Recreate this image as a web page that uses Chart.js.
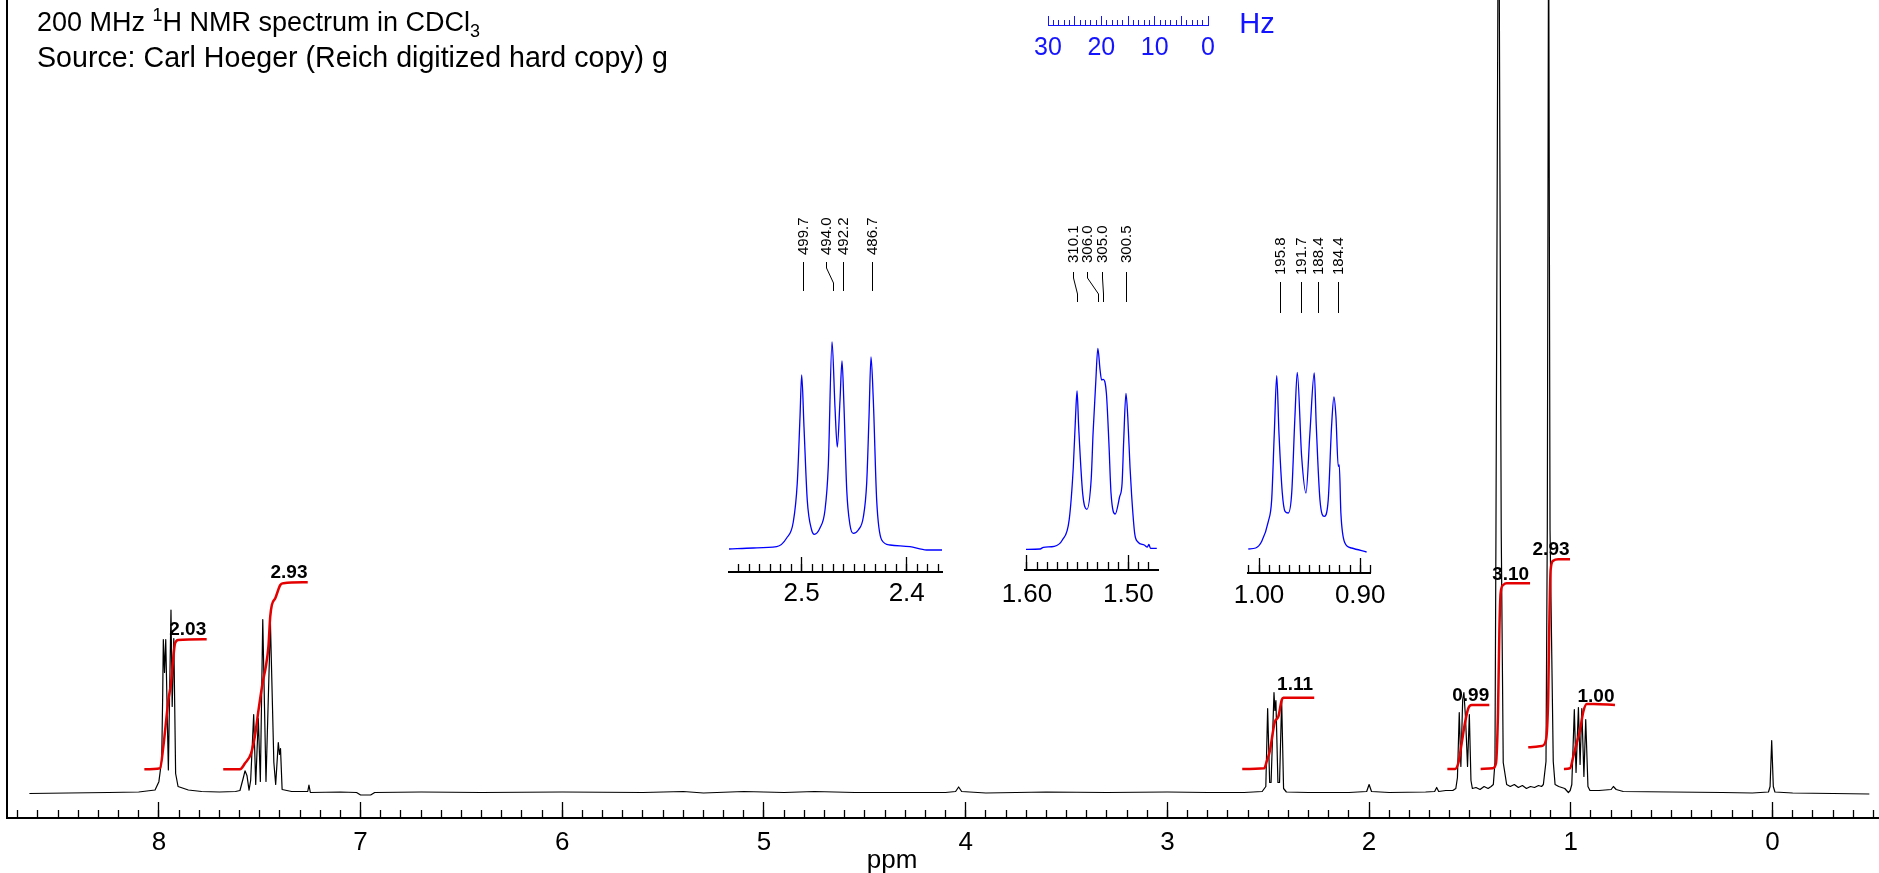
<!DOCTYPE html>
<html>
<head>
<meta charset="utf-8">
<script src="https://cdn.jsdelivr.net/npm/chart.js@4.4.1/dist/chart.umd.min.js"></script>
<style>
  html, body { margin: 0; padding: 0; background: #fff; width: 1879px; height: 873px; overflow: hidden; }
  canvas { position: absolute; }
  .title { position: absolute; left: 37px; font-family: "Liberation Sans", Arial, sans-serif; color: #000; white-space: nowrap; }
  .title sup, .title sub { font-size: 18px; line-height: 0; }
</style>
</head>
<body>
<canvas id="main" width="1879" height="873" style="left:0;top:0"></canvas>
<canvas id="inset1" width="293" height="417" style="left:689px;top:200px"></canvas>
<canvas id="inset2" width="221" height="415" style="left:977px;top:200px"></canvas>
<canvas id="inset3" width="203" height="418" style="left:1208px;top:200px"></canvas>
<canvas id="hzbar" width="282" height="75" style="left:1008px;top:0"></canvas>
<div class="title" style="top:9px;font-size:27px;line-height:27px">200 MHz <sup>1</sup>H NMR spectrum in CDCl<sub>3</sub></div>
<div class="title" style="top:43px;font-size:28.6px;line-height:28px">Source: Carl Hoeger (Reich digitized hard copy) g</div>
<script>
// spectrometer frequency, used to turn the Hz labels into ppm
const MHZ = 200;

// main trace (ppm, intensity above baseline)
const mainPpm = [8.642, 8.45, 8.25, 8.10, 8.019, 8.000, 7.986, 7.981, 7.978, 7.972, 7.966, 7.953, 7.940, 7.934, 7.926, 7.917, 7.905, 7.854, 7.788, 7.70,
  7.62, 7.598, 7.581, 7.573, 7.563, 7.553, 7.545, 7.530, 7.520, 7.507, 7.497, 7.485, 7.469, 7.447, 7.430, 7.421, 7.408, 7.402, 7.397, 7.389,
  7.342, 7.262, 7.256, 7.249, 7.10, 7.02, 7.00, 6.95, 6.93, 6.70, 6.40, 6.00, 5.60, 5.40, 5.30, 5.10, 4.90, 4.75, 4.55, 4.10,
  4.05, 4.035, 4.02, 3.90, 3.60, 3.30, 3.00, 2.80, 2.62, 2.53, 2.512, 2.503, 2.493, 2.486, 2.4715, 2.467, 2.462, 2.452, 2.444, 2.4335,
  2.424, 2.41, 2.30, 2.10, 2.012, 2.000, 1.988, 1.90, 1.72, 1.675, 1.665, 1.655, 1.62, 1.585, 1.57, 1.562, 1.553, 1.545, 1.536, 1.530,
  1.522, 1.512, 1.503, 1.495, 1.488, 1.47, 1.45, 1.43, 1.41, 1.395, 1.384, 1.376, 1.371, 1.358, 1.345, 1.335, 1.318, 1.30, 1.28, 1.26,
  1.24, 1.22, 1.20, 1.18, 1.16, 1.145, 1.136, 1.123, 1.1165, 1.110, 1.103, 1.087, 1.078, 1.06, 1.03, 1.012, 1.003, 0.995, 0.9825, 0.974,
  0.9622, 0.954, 0.9454, 0.935, 0.926, 0.915, 0.905, 0.86, 0.80, 0.789, 0.775, 0.74, 0.50, 0.25, 0.10, 0.02, 0.012, 0.004, -0.004, -0.012,
  -0.10, -0.30, -0.48];
const mainInt = [-1, -0.5, 0, 0.5, 2.5, 10.8, 32.5, 99, 153, 120, 153, 22.5, 182.5, 86, 154, 19, 6, 2.5, 1, 0.5,
  1, 2, 15, 21.7, 16.7, 2.4, 12, 78, 8, 74, 11, 173, 11, 170, 30, 8, 50, 38, 44, 3,
  1, 1, 7.4, 0, 0.5, 0, -2.5, -2.5, 0, 0.5, 0, 0.5, 0, 1, -0.5, 1, 0, 1, 0, 0,
  1, 5.5, 1, -0.5, 0.5, 0, 0.5, 0, 0, 1, 6, 84, 10, 10, 100, 82, 92, 10, 10, 92,
  4, 0.5, 0, 0, 1, 8, 1, 0, 0.5, 1, 5, 1, 2, 2, 4, 15, 80, 26, 93, 100,
  75, 26, 78, 12, 4, 5, 3, 6, 4, 6, 8, 30, 263, 1000, 263, 30, 8, 6, 8, 5,
  7, 4, 6, 5, 7, 6, 8, 31, 263, 900, 263, 31, 8, 6, 4, 0, 2, 8, 83, 20,
  85, 28, 84, 16, 73, 6, 2, 2, 3, 6, 3, 1, 0.5, 0, -0.5, 0.5, 6, 52, 6, 0.5,
  -0.5, -1, -1.5];

// integral curves
const integralPpm = [
  [8.072, 7.994, 7.978, 7.961, 7.953, 7.940, 7.928, 7.920, 7.904, 7.763],
  [7.681, 7.598, 7.573, 7.543, 7.523, 7.506, 7.486, 7.470, 7.457, 7.448, 7.440, 7.423, 7.398, 7.382, 7.262],
  [2.629, 2.520, 2.508, 2.491, 2.478, 2.467, 2.450, 2.433, 2.425, 2.272],
  [1.612, 1.574, 1.558, 1.541, 1.525, 1.508, 1.491, 1.404],
  [1.447, 1.387, 1.371, 1.361, 1.354, 1.348, 1.335, 1.318, 1.202],
  [1.211, 1.144, 1.123, 1.112, 1.107, 1.100, 1.087, 1.062, 1.004],
  [1.034, 1.004, 0.988, 0.971, 0.954, 0.938, 0.921, 0.888, 0.781]
];
const integralValue = [
  [23.2, 24.2, 45.8, 77.5, 92.5, 109.2, 135.8, 149.2, 152.5, 153.2],
  [23.2, 23.2, 29.2, 39.2, 57.5, 82.5, 109.2, 125.8, 145.8, 175.8, 187.5, 194.2, 207.5, 209.2, 210.2],
  [23.5, 24.2, 30.8, 42.5, 59.2, 70.8, 75.8, 92.5, 94.8, 94.8],
  [23.5, 23.5, 29.2, 49.2, 69.2, 84.2, 87.5, 87.5],
  [23.5, 24.2, 29.2, 79.2, 162.5, 199.2, 207.5, 209.2, 209.2],
  [45.2, 46.5, 52.5, 95.8, 162.5, 222.5, 231.8, 233.2, 233.2],
  [23.5, 24.2, 35.8, 49.2, 62.5, 80.8, 88.5, 88.5, 87.5]
];
const integralLabels = ['2.03', '2.93', '1.11', '0.99', '3.10', '2.93', '1.00'];
const integralLabelPpm = [7.857, 7.355, 2.367, 1.496, 1.298, 1.098, 0.875];
const integralLabelValue = [162.5, 219.8, 107.5, 96.5, 217.5, 242.5, 95.8];

// expansions
const inset1Ppm = [2.5692, 2.5461, 2.5238, 2.5143, 2.5080, 2.5042, 2.5016, 2.5000, 2.4978, 2.4947, 2.4905, 2.4880, 2.4826, 2.4778, 2.4747, 2.4711, 2.4683, 2.4661,
  2.4635, 2.4616, 2.4597, 2.4571, 2.4540, 2.4509, 2.4461, 2.4413, 2.4381, 2.4359, 2.4340, 2.4318, 2.4286, 2.4238, 2.4159, 2.3969, 2.3810, 2.3664];
const inset1Int = [-1, 0, 1.3, 10, 26, 65, 131, 173, 121, 48, 18, 13.7, 20, 38, 81, 206, 141, 101,
  148, 187, 141, 58, 23, 14.7, 18, 31, 65, 131, 191, 148, 48, 8, 3, 1.3, -2, -2];
const inset1Hz = [499.7, 494.0, 492.2, 486.7];
const inset1LabelPpm = [2.4985, 2.4769, 2.4610, 2.4335];

const inset2Ppm = [1.6009, 1.5870, 1.5838, 1.5730, 1.5651, 1.5583, 1.5543, 1.5521, 1.5506, 1.5490, 1.5450, 1.5409, 1.5366, 1.5348, 1.5322, 1.5301, 1.5279, 1.5264, 1.5248,
  1.5217, 1.5192, 1.5171, 1.5130, 1.5087, 1.5062, 1.5046, 1.5024, 1.5006, 1.4984, 1.4968, 1.4938, 1.4906, 1.4844, 1.4813, 1.4798, 1.4782, 1.4720];
const inset2Int = [-0.3, 0, 1.7, 2.7, 9, 29.7, 82, 132, 158, 122, 55, 39.7, 70.7, 116, 166, 200.7, 179, 169, 169.7,
  156, 106, 55.7, 35, 52, 65.7, 108.7, 155.7, 132, 82, 53.7, 15.7, 7, 4, 2, 4.7, 0.7, 0.7];
const inset2Hz = [310.1, 306.0, 305.0, 300.5];
const inset2LabelPpm = [1.5543, 1.5404, 1.5257, 1.5024];

const inset3Ppm = [1.0106, 1.0033, 0.9973, 0.9908, 0.9875, 0.9849, 0.9825, 0.9803, 0.9770, 0.9743, 0.9711, 0.9677, 0.9645, 0.9622, 0.9579, 0.9536,
  0.9497, 0.9454, 0.9434, 0.9398, 0.9355, 0.9316, 0.9283, 0.9260, 0.9240, 0.9217, 0.9207, 0.9191, 0.9151, 0.9085, 0.8937];
const inset3Int = [0, 1, 7.7, 27.7, 49.3, 116, 173.3, 116, 56, 37.7, 36, 56, 132.7, 176.7, 92.7, 56,
  116, 176, 122.7, 49.3, 32.7, 49.3, 122.7, 152, 132.7, 82.7, 84, 36, 6, 1, -3];
const inset3Hz = [195.8, 191.7, 188.4, 184.4];
const inset3LabelPpm = [0.979, 0.9585, 0.942, 0.922];

const FONT = '"Liberation Sans", Arial, sans-serif';
const BLUE = 'rgb(20,20,255)';
const RED = 'rgb(228,0,0)';
Chart.defaults.font.family = FONT;
Chart.defaults.color = '#000';

function pts(xs, ys) {
  return xs.map((x, i) => ({ x: x, y: ys[i] }));
}

const baseOpts = {
  responsive: false,
  animation: false,
  devicePixelRatio: 1,
  plugins: { legend: { display: false }, tooltip: { enabled: false } }
};

// ---------- main spectrum ----------
const MAIN_MIN = -0.528, MAIN_MAX = 8.753;
const MAIN_YMIN = -25.5, MAIN_YMAX = 792.5;

const mainText = {
  id: 'mainText',
  afterDatasetsDraw(chart) {
    const { ctx, scales: { x, y } } = chart;
    ctx.save();
    ctx.fillStyle = '#000';
    ctx.textAlign = 'center';
    ctx.textBaseline = 'middle';
    ctx.font = 'bold 19px ' + FONT;
    integralLabels.forEach((t, i) => {
      ctx.fillText(t, x.getPixelForValue(integralLabelPpm[i]), y.getPixelForValue(integralLabelValue[i]));
    });
    ctx.font = '26px ' + FONT;
    ctx.fillText('ppm', 892, 861);
    ctx.restore();
  }
};

new Chart(document.getElementById('main'), {
  type: 'line',
  data: {
    datasets: integralPpm.map((p, i) => ({
      data: pts(p, integralValue[i]),
      borderColor: RED, borderWidth: 2.5, pointRadius: 0,
      cubicInterpolationMode: 'monotone', order: 0
    })).concat([{
      data: pts(mainPpm, mainInt),
      borderColor: '#000', borderWidth: 1.2, pointRadius: 0, tension: 0,
      borderJoinStyle: 'round', order: 1
    }])
  },
  options: Object.assign({}, baseOpts, {
    layout: { padding: { left: 7, right: 0, top: 0, bottom: 0 } },
    scales: {
      x: {
        type: 'linear', reverse: true, min: MAIN_MIN, max: MAIN_MAX, position: 'bottom',
        afterFit: s => { s.height = 55; },
        border: { display: true, color: '#000', width: 2 },
        grid: { drawOnChartArea: false, drawTicks: true, tickLength: -16, tickWidth: 1.3, tickColor: '#000' },
        ticks: { stepSize: 1, includeBounds: false, autoSkip: false, maxRotation: 0, padding: 25, font: { size: 26 }, color: '#000' }
      },
      xMinor: {
        type: 'linear', axis: 'x', reverse: true, min: MAIN_MIN, max: MAIN_MAX, position: { y: MAIN_YMIN },
        border: { display: false },
        grid: { drawOnChartArea: false, drawTicks: true, tickLength: -8, tickWidth: 1.3, tickColor: '#000' },
        ticks: { stepSize: 0.1, includeBounds: false, autoSkip: false, display: false }
      },
      y: {
        type: 'linear', min: MAIN_YMIN, max: MAIN_YMAX,
        afterFit: s => { s.width = 0; },
        grid: { display: false, drawTicks: false },
        ticks: { display: false },
        border: { display: true, color: '#000', width: 2 }
      }
    }
  }),
  plugins: [mainText]
});

// ---------- expansions ----------
function peakLabels(hz, labelPpm, g) {
  return {
    id: 'peakLabels',
    afterDraw(chart) {
      const { ctx, chartArea, scales: { x } } = chart;
      const top = chartArea.top;
      ctx.save();
      ctx.strokeStyle = '#000';
      ctx.lineWidth = 1;
      ctx.fillStyle = '#000';
      ctx.font = '15px ' + FONT;
      hz.forEach((h, i) => {
        const xt = Math.round(x.getPixelForValue(labelPpm[i])) + 0.5;
        const xp = Math.round(x.getPixelForValue(h / MHZ)) + 0.5;
        ctx.beginPath();
        ctx.moveTo(xt, top + g.lineTop);
        ctx.lineTo(xt, top + g.lineTop + 6);
        ctx.lineTo(xp, top + g.lineBottom - 8);
        ctx.lineTo(xp, top + g.lineBottom);
        ctx.stroke();
        ctx.save();
        ctx.translate(xt, top + g.textBottom);
        ctx.rotate(-Math.PI / 2);
        ctx.textAlign = 'left';
        ctx.textBaseline = 'middle';
        ctx.fillText(h.toFixed(1), 0, 0);
        ctx.restore();
      });
      ctx.restore();
    }
  };
}

function inset(id, ppm, val, c) {
  new Chart(document.getElementById(id), {
    type: 'line',
    data: {
      datasets: [{
        data: pts(ppm, val), borderColor: '#0000ff', borderWidth: 1.3,
        pointRadius: 0, cubicInterpolationMode: 'monotone'
      }]
    },
    options: Object.assign({}, baseOpts, {
      layout: { padding: { left: 40, right: 40, top: 0, bottom: 0 } },
      scales: {
        x: {
          type: 'linear', reverse: true, min: c.min, max: c.max, position: 'bottom',
          afterFit: s => { s.height = 45; },
          border: { display: true, color: '#000', width: 2 },
          grid: { drawOnChartArea: false, drawTicks: true, tickLength: -15, tickWidth: 1.3, tickColor: '#000' },
          ticks: {
            stepSize: 0.1, includeBounds: false, autoSkip: false, maxRotation: 0,
            padding: c.pad, font: { size: 26 }, color: '#000',
            callback: v => v.toFixed(c.dec)
          }
        },
        xMinor: {
          type: 'linear', axis: 'x', reverse: true, min: c.min, max: c.max, position: { y: c.ymin },
          border: { display: false },
          grid: { drawOnChartArea: false, drawTicks: true, tickLength: -8, tickWidth: 1.3, tickColor: '#000' },
          ticks: { stepSize: 0.01, includeBounds: false, autoSkip: false, display: false }
        },
        y: { type: 'linear', display: false, min: c.ymin, max: c.ymax }
      }
    }),
    plugins: [peakLabels(c.hz, c.labelPpm, c.geom)]
  });
}

inset('inset1', inset1Ppm, inset1Int, {
  min: 2.3664, max: 2.5692, ymin: -24, ymax: 348, pad: 21, dec: 1,
  hz: inset1Hz, labelPpm: inset1LabelPpm, geom: { textBottom: 55, lineTop: 62, lineBottom: 91 }
});
inset('inset2', inset2Ppm, inset2Int, {
  min: 1.4708, max: 1.6021, ymin: -21, ymax: 349, pad: 24, dec: 2,
  hz: inset2Hz, labelPpm: inset2LabelPpm, geom: { textBottom: 63, lineTop: 72, lineBottom: 102 }
});
inset('inset3', inset3Ppm, inset3Int, {
  min: 0.8894, max: 1.0109, ymin: -24, ymax: 349, pad: 22, dec: 2,
  hz: inset3Hz, labelPpm: inset3LabelPpm, geom: { textBottom: 75, lineTop: 82, lineBottom: 113 }
});

// ---------- Hz scale bar ----------
const hzText = {
  id: 'hzText',
  afterDraw(chart) {
    const { ctx, chartArea } = chart;
    ctx.save();
    ctx.fillStyle = BLUE;
    ctx.font = '29px ' + FONT;
    ctx.textAlign = 'center';
    ctx.textBaseline = 'middle';
    ctx.fillText('Hz', chartArea.right + 49, chartArea.bottom);
    ctx.restore();
  }
};

new Chart(document.getElementById('hzbar'), {
  type: 'line',
  data: { datasets: [] },
  options: Object.assign({}, baseOpts, {
    layout: { padding: { left: 40, right: 82, top: 5, bottom: 0 } },
    scales: {
      x: {
        type: 'linear', reverse: true, min: 0, max: 30, position: 'bottom',
        afterFit: s => { s.height = 50; },
        border: { display: true, color: BLUE, width: 1 },
        grid: { drawOnChartArea: false, drawTicks: true, tickLength: -9, tickWidth: 1, tickColor: BLUE },
        ticks: {
          stepSize: 5, includeBounds: false, autoSkip: false, maxRotation: 0, padding: 17,
          font: { size: 25 }, color: BLUE,
          callback: v => (v % 10 === 0 ? String(v) : '')
        }
      },
      xMinor: {
        type: 'linear', axis: 'x', reverse: true, min: 0, max: 30, position: { y: 0 },
        border: { display: false },
        grid: { drawOnChartArea: false, drawTicks: true, tickLength: -5, tickWidth: 1, tickColor: BLUE },
        ticks: { stepSize: 1, includeBounds: false, autoSkip: false, display: false }
      },
      y: { type: 'linear', display: false, min: 0, max: 1 }
    }
  }),
  plugins: [hzText]
});
</script>
</body>
</html>
